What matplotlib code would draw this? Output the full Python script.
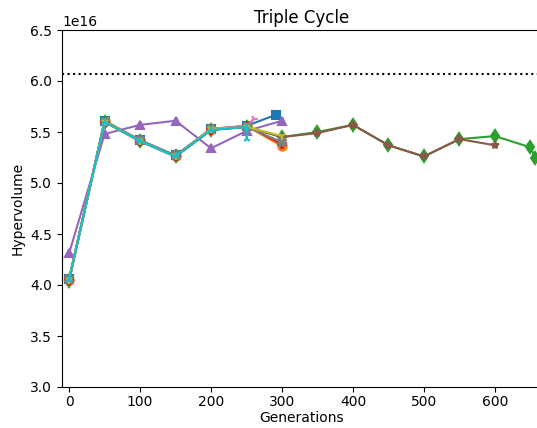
import matplotlib
matplotlib.use("Agg")
import matplotlib.pyplot as plt

# Data (values in units of 1e16)
gens_a = [0, 50, 100, 150, 200, 250, 292]
blue = [4.06, 5.61, 5.42, 5.27, 5.53, 5.56, 5.67]

gens_b = [0, 50, 100, 150, 200, 250, 300]
orange = [4.05, 5.61, 5.42, 5.26, 5.53, 5.56, 5.36]
red = [4.05, 5.60, 5.41, 5.26, 5.52, 5.56, 5.38]
gray = [4.06, 5.60, 5.42, 5.27, 5.53, 5.55, 5.40]
purple = [4.31, 5.48, 5.57, 5.61, 5.34, 5.51, 5.61]
olive = [4.05, 5.60, 5.41, 5.26, 5.53, 5.55, 5.46]

gens_green = [0, 50, 100, 150, 200, 250, 300, 350, 400, 450, 500, 550, 600, 650, 657]
green = [4.04, 5.60, 5.41, 5.26, 5.52, 5.55, 5.45, 5.50, 5.57, 5.37, 5.26, 5.43, 5.46, 5.35, 5.25]

gens_brown = [0, 50, 100, 150, 200, 250, 300, 350, 400, 450, 500, 550, 600]
brown = [4.05, 5.60, 5.41, 5.26, 5.52, 5.55, 5.45, 5.49, 5.57, 5.37, 5.26, 5.43, 5.37]

gens_pink = [0, 50, 100, 150, 200, 250, 260]
pink = [4.05, 5.60, 5.41, 5.26, 5.53, 5.56, 5.63]

gens_cyan = [0, 50, 100, 150, 200, 250, 250]
cyan = [4.05, 5.60, 5.41, 5.26, 5.52, 5.55, 5.43]

reference = 6.07
x_ticks = [0, 100, 200, 300, 400, 500, 600]

scale = 1e16

fig = plt.figure(figsize=(5.37, 4.28), dpi=100)
ax = fig.add_axes([62 / 537, 41 / 428, 479 / 537, 357 / 428])

series = [
    (gens_a, blue, "s", "C0"),
    (gens_b, orange, "o", "C1"),
    (gens_green, green, "d", "C2"),
    (gens_b, red, "P", "C3"),
    (gens_b, purple, "^", "C4"),
    (gens_brown, brown, "*", "C5"),
    (gens_pink, pink, "4", "C6"),
    (gens_b, gray, "X", "C7"),
    (gens_b, olive, "1", "C8"),
    (gens_cyan, cyan, "2", "C9"),
]
for xs, ys, m, c in series:
    ax.plot(xs, [v * scale for v in ys], marker=m, color=c, lw=1.5, ms=6,
            mew=1.5)

ax.axhline(reference * scale, color="black", ls=":", lw=1.5)

ax.set_xlim(-10, 665)
ax.set_ylim(3.0e16, 6.5e16)
ax.set_xticks(x_ticks)
ax.tick_params(axis="x", pad=2.5)
ax.set_title("Triple Cycle", pad=5)
ax.set_xlabel("Generations", labelpad=1.5)
ax.set_ylabel("Hypervolume")

fig.savefig("out.png", dpi=100)
